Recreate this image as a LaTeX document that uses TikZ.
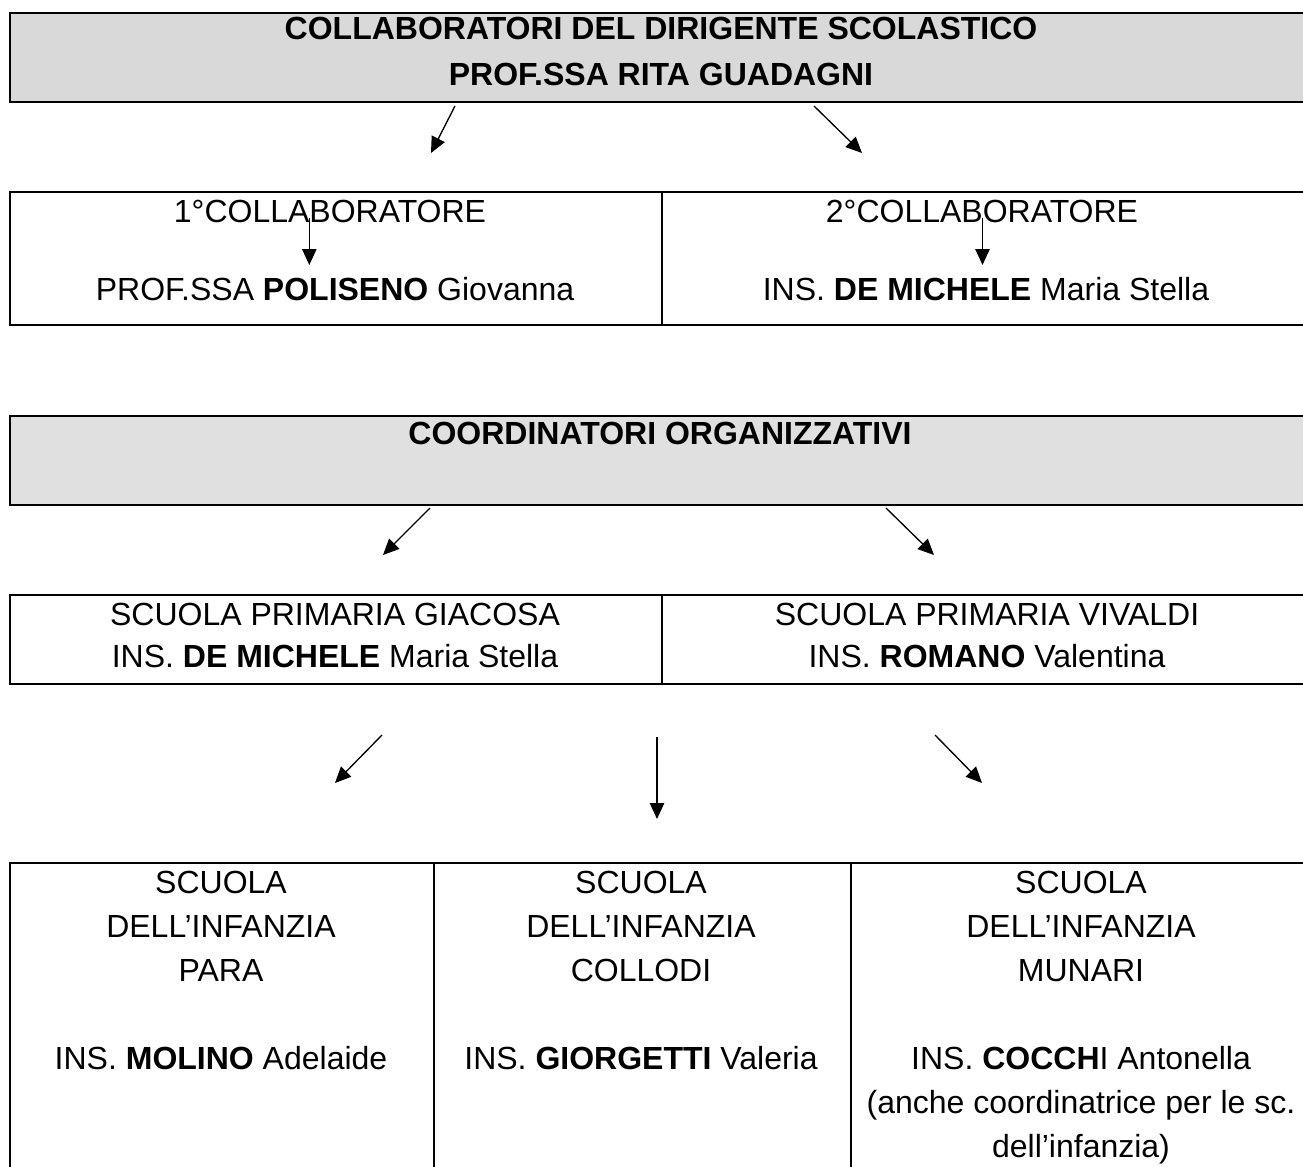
\documentclass[tikz,border=0pt]{standalone}
\usepackage{fontspec}
\setmainfont{Liberation Sans}
\usetikzlibrary{arrows.meta}
\definecolor{grigioscuro}{RGB}{217,217,217}
\definecolor{grigiochiaro}{RGB}{224,224,224}

\begin{document}
\begin{tikzpicture}[
        x=0.375pt, y=-0.375pt, % 1 unità = 1 pixel, y verso il basso
        cella/.style = {draw, line width=0.6pt, anchor=north west, inner sep=0pt}, % riquadri della tabella
        testa/.style = {cella, minimum width=489pt, minimum height=33.56pt}, % intestazioni grigie
        scritta/.style = {anchor=base, inner sep=0pt, align=center, font=\fontsize{12pt}{16.5pt}\selectfont}, % base = ultima riga
        titolo/.style = {scritta, font=\fontsize{12pt}{16.5pt}\selectfont\bfseries},
        freccia/.style = {draw, line width=0.5pt, -{Triangle[length=6pt, width=5.4pt]}},
    ]

    \useasboundingbox (0,0) rectangle (1303,1167);
    \clip (0,0) rectangle (1303,1167);

    % riquadri
    \node[testa, fill=grigioscuro] (collab) at (9,12) {};
    \node[cella, minimum width=244.5pt, minimum height=49.875pt] (primo) at (9,191) {};
    \node[cella, minimum width=244.5pt, minimum height=49.875pt] (secondo) at (661,191) {};
    \node[testa, fill=grigiochiaro] (coord) at (9,415) {};
    \node[cella, minimum width=244.5pt, minimum height=33.375pt] (giacosa) at (9,594) {};
    \node[cella, minimum width=244.5pt, minimum height=33.375pt] (vivaldi) at (661,594) {};
    \node[cella, minimum width=159pt, minimum height=126.75pt] (para) at (9,862) {};
    \node[cella, minimum width=156.375pt, minimum height=126.75pt] (collodi) at (433,862) {};
    \node[cella, minimum width=173.625pt, minimum height=126.75pt] (munari) at (850,862) {};

    % testi
    \node[titolo] (tcollab) at (661,85) {COLLABORATORI DEL DIRIGENTE SCOLASTICO\\[0.56pt]PROF.SSA RITA GUADAGNI};
    \node[scritta] (tprimo) at (330,222.7) {1°COLLABORATORE};
    \node[scritta] (nprimo) at (335,300) {PROF.SSA \textbf{POLISENO} Giovanna};
    \node[scritta] (tsecondo) at (982,222.7) {2°COLLABORATORE};
    \node[scritta] (nsecondo) at (986,300) {INS. \textbf{DE MICHELE} Maria Stella};
    \node[titolo] (tcoord) at (660,444.8) {COORDINATORI ORGANIZZATIVI};
    \node[scritta] (tgiacosa) at (335,667.4) {SCUOLA PRIMARIA GIACOSA\\[-0.6pt]INS. \textbf{DE MICHELE} Maria Stella};
    \node[scritta] (tvivaldi) at (987,667.4) {SCUOLA PRIMARIA VIVALDI\\[-0.6pt]INS. \textbf{ROMANO} Valentina};
    \node[scritta] (tpara) at (221,1069.3) {SCUOLA\\DELL’INFANZIA\\PARA\\[16.5pt]INS. \textbf{MOLINO} Adelaide};
    \node[scritta] (tcollodi) at (641,1069.3) {SCUOLA\\DELL’INFANZIA\\COLLODI\\[16.5pt]INS. \textbf{GIORGETTI} Valeria};
    \node[scritta] (tmunari) at (1081,1157.3) {SCUOLA\\DELL’INFANZIA\\MUNARI\\[16.5pt]INS. \textbf{COCCH}I Antonella\\(anche coordinatrice per le sc.\\dell’infanzia)};

    % frecce
    \coordinate (da1) at (455,106);   \coordinate (a1) at (431,153);
    \coordinate (da2) at (814,106);   \coordinate (a2) at (862,153);
    \coordinate (da3) at (309.3,218); \coordinate (a3) at (309.3,265);
    \coordinate (da4) at (982.5,218); \coordinate (a4) at (982.5,265);
    \coordinate (da5) at (430,508);   \coordinate (a5) at (383,555);
    \coordinate (da6) at (886,508);   \coordinate (a6) at (934,555);
    \coordinate (da7) at (382,735);   \coordinate (a7) at (335,783);
    \coordinate (da8) at (657,737);   \coordinate (a8) at (657,819);
    \coordinate (da9) at (935,735);   \coordinate (a9) at (982,783);
    \foreach \i in {1,...,9}
        \draw[freccia] (da\i) -- (a\i);
\end{tikzpicture}
\end{document}
